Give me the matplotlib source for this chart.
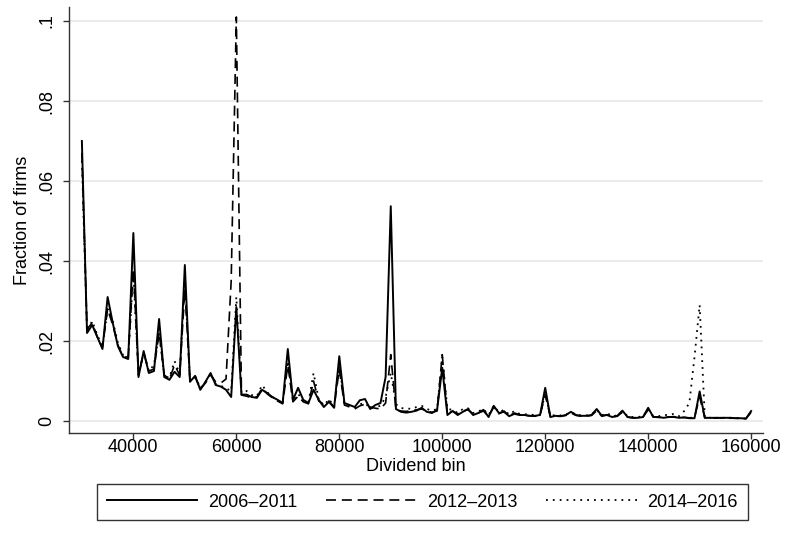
import matplotlib
matplotlib.use("Agg")
import matplotlib.pyplot as plt

plt.rcParams['font.family'] = ['Liberation Sans', 'DejaVu Sans']

# dividend bins, 30000 .. 160000 in steps of 1000
bins = list(range(30000, 161000, 1000))

# 2006-2011 (solid)
s_0611 = [
    0.070, 0.022, 0.024, 0.021, 0.018, 0.031, 0.0245, 0.0187, 0.016, 0.0155,
    0.047, 0.011, 0.0175, 0.012, 0.0125, 0.0255, 0.011, 0.0103, 0.0123, 0.011,
    0.039, 0.0098, 0.0113, 0.0078, 0.0098, 0.012, 0.009, 0.0086, 0.0078, 0.006,
    0.0285, 0.0066, 0.0066, 0.006, 0.0058, 0.0078, 0.007, 0.006, 0.0053, 0.0045,
    0.018, 0.0053, 0.0083, 0.0053, 0.0045, 0.0078, 0.0053, 0.0035, 0.0048, 0.0033,
    0.0162, 0.0045, 0.004, 0.0035, 0.0052, 0.0055, 0.003, 0.004, 0.0045, 0.011,
    0.0537, 0.003, 0.0023, 0.0021, 0.0023, 0.0026, 0.0033, 0.0023, 0.002, 0.0028,
    0.0133, 0.0015, 0.0025, 0.0015, 0.0023, 0.003, 0.0015, 0.002, 0.0028, 0.001,
    0.0038, 0.002, 0.0023, 0.0012, 0.0018, 0.0015, 0.0015, 0.0013, 0.0013, 0.0015,
    0.0083, 0.001, 0.0013, 0.0012, 0.0015, 0.0023, 0.0015, 0.0013, 0.0013, 0.0015,
    0.003, 0.0013, 0.0015, 0.001, 0.0013, 0.0026, 0.001, 0.0008, 0.0008, 0.001,
    0.0033, 0.001, 0.001, 0.0008, 0.001, 0.001, 0.0008, 0.0009, 0.0007, 0.0007,
    0.0074, 0.0008, 0.0008, 0.0008, 0.0008, 0.0008, 0.0008, 0.0007, 0.0007, 0.0006,
    0.0025]

# 2012-2013 (dashed)
s_1213 = [
    0.067, 0.023, 0.0245, 0.021, 0.0185, 0.028, 0.024, 0.019, 0.016, 0.016,
    0.038, 0.0115, 0.017, 0.0125, 0.013, 0.022, 0.0115, 0.0105, 0.014, 0.0115,
    0.033, 0.010, 0.011, 0.008, 0.0095, 0.0115, 0.0098, 0.0095, 0.0105, 0.035,
    0.101, 0.0065, 0.0062, 0.0058, 0.006, 0.0082, 0.0068, 0.0058, 0.005, 0.0043,
    0.014, 0.0048, 0.0062, 0.0048, 0.0043, 0.010, 0.005, 0.0042, 0.005, 0.0035,
    0.013, 0.004, 0.0035, 0.003, 0.0038, 0.0042, 0.0035, 0.0032, 0.003, 0.0045,
    0.0166, 0.0028, 0.0025, 0.0024, 0.0026, 0.0028, 0.003, 0.0025, 0.0022, 0.0025,
    0.0166, 0.0018, 0.0025, 0.0018, 0.0025, 0.0028, 0.0018, 0.002, 0.0025, 0.0012,
    0.0035, 0.0018, 0.0025, 0.0013, 0.002, 0.0016, 0.0014, 0.0013, 0.0012, 0.0014,
    0.0065, 0.0011, 0.0012, 0.0012, 0.0014, 0.002, 0.0014, 0.0012, 0.0012, 0.0014,
    0.0026, 0.0012, 0.0016, 0.001, 0.0012, 0.0022, 0.001, 0.0008, 0.0008, 0.001,
    0.0028, 0.001, 0.0009, 0.0009, 0.001, 0.0011, 0.0008, 0.0009, 0.0008, 0.0009,
    0.006, 0.0008, 0.0008, 0.0007, 0.0008, 0.0007, 0.0007, 0.0007, 0.0007, 0.0006,
    0.0022]

# 2014-2016 (dotted)
s_1416 = [
    0.065, 0.0225, 0.025, 0.0215, 0.0185, 0.028, 0.025, 0.0195, 0.0165, 0.016,
    0.037, 0.0115, 0.0172, 0.0125, 0.014, 0.022, 0.0112, 0.0108, 0.015, 0.0118,
    0.035, 0.0102, 0.0112, 0.0082, 0.0098, 0.0118, 0.0092, 0.0088, 0.0082, 0.0075,
    0.031, 0.007, 0.0075, 0.0065, 0.0062, 0.009, 0.0072, 0.006, 0.0052, 0.0047,
    0.015, 0.005, 0.0068, 0.005, 0.0046, 0.012, 0.0055, 0.0038, 0.0055, 0.0036,
    0.0145, 0.0042, 0.0038, 0.0034, 0.0042, 0.0045, 0.0032, 0.0035, 0.0038, 0.006,
    0.012, 0.0042, 0.0032, 0.0032, 0.003, 0.0035, 0.0038, 0.003, 0.0026, 0.003,
    0.016, 0.003, 0.0028, 0.002, 0.003, 0.0032, 0.002, 0.0024, 0.003, 0.0015,
    0.0038, 0.0022, 0.0028, 0.0016, 0.0025, 0.0018, 0.0017, 0.0016, 0.0015, 0.0016,
    0.0068, 0.0013, 0.0015, 0.0014, 0.0016, 0.0022, 0.0016, 0.0014, 0.0014, 0.0016,
    0.0028, 0.0014, 0.002, 0.0012, 0.0014, 0.0024, 0.0012, 0.001, 0.001, 0.0012,
    0.003, 0.0012, 0.0012, 0.0015, 0.0015, 0.0018, 0.0012, 0.0025, 0.0045, 0.016,
    0.029, 0.0009, 0.0008, 0.0008, 0.0008, 0.0008, 0.0008, 0.0007, 0.0007, 0.0006,
    0.0024]

labels = ["2006\u20132011", "2012\u20132013", "2014\u20132016"]
xticks = [40000, 60000, 80000, 100000, 120000, 140000, 160000]
yticks = [0, 0.02, 0.04, 0.06, 0.08, 0.1]
ytick_labels = ["0", ".02", ".04", ".06", ".08", ".1"]

fig = plt.figure(figsize=(7.86, 5.34), dpi=100)
ax = fig.add_axes([0.0878, 0.1891, 0.8829, 0.7978])

ax.plot(bins, s_0611, color="black", lw=1.4, label=labels[0])
ax.plot(bins, s_1213, color="black", lw=1.2, dashes=(6, 3.5), label=labels[1])
ax.plot(bins, s_1416, color="black", lw=1.3, dashes=(1, 2.8), label=labels[2])

ax.set_xlim(27500, 162300)
ax.set_ylim(-0.003, 0.1035)
ax.set_xticks(xticks)
ax.set_xticklabels([str(t) for t in xticks])
ax.set_yticks(yticks)
ax.set_yticklabels(ytick_labels, rotation=90, va="center")

ax.grid(axis="y", color="#e8e8e8", lw=1.2)
ax.set_axisbelow(True)
for side in ["top", "right"]:
    ax.spines[side].set_visible(False)
for side in ["left", "bottom"]:
    ax.spines[side].set_color("#333333")
    ax.spines[side].set_linewidth(1.0)
ax.tick_params(direction="out", length=4, width=1, color="#333333",
               labelsize=13)
ax.tick_params(axis="x", pad=0.5)
ax.tick_params(axis="y", pad=6)

ax.set_xlabel("Dividend bin", fontsize=13, labelpad=1)
ax.set_ylabel("Fraction of firms", fontsize=13, labelpad=5)

leg = fig.legend(loc="center", ncol=3, bbox_to_anchor=(0.1234, 0.0243, 0.828, 0.071),
                 mode="expand", fontsize=13, handlelength=5, frameon=True,
                 fancybox=False, edgecolor="black", borderpad=0.55,
                 borderaxespad=0, columnspacing=1.5, handletextpad=0.6)
leg.get_frame().set_linewidth(1.0)

fig.savefig("out.png", dpi=100)
